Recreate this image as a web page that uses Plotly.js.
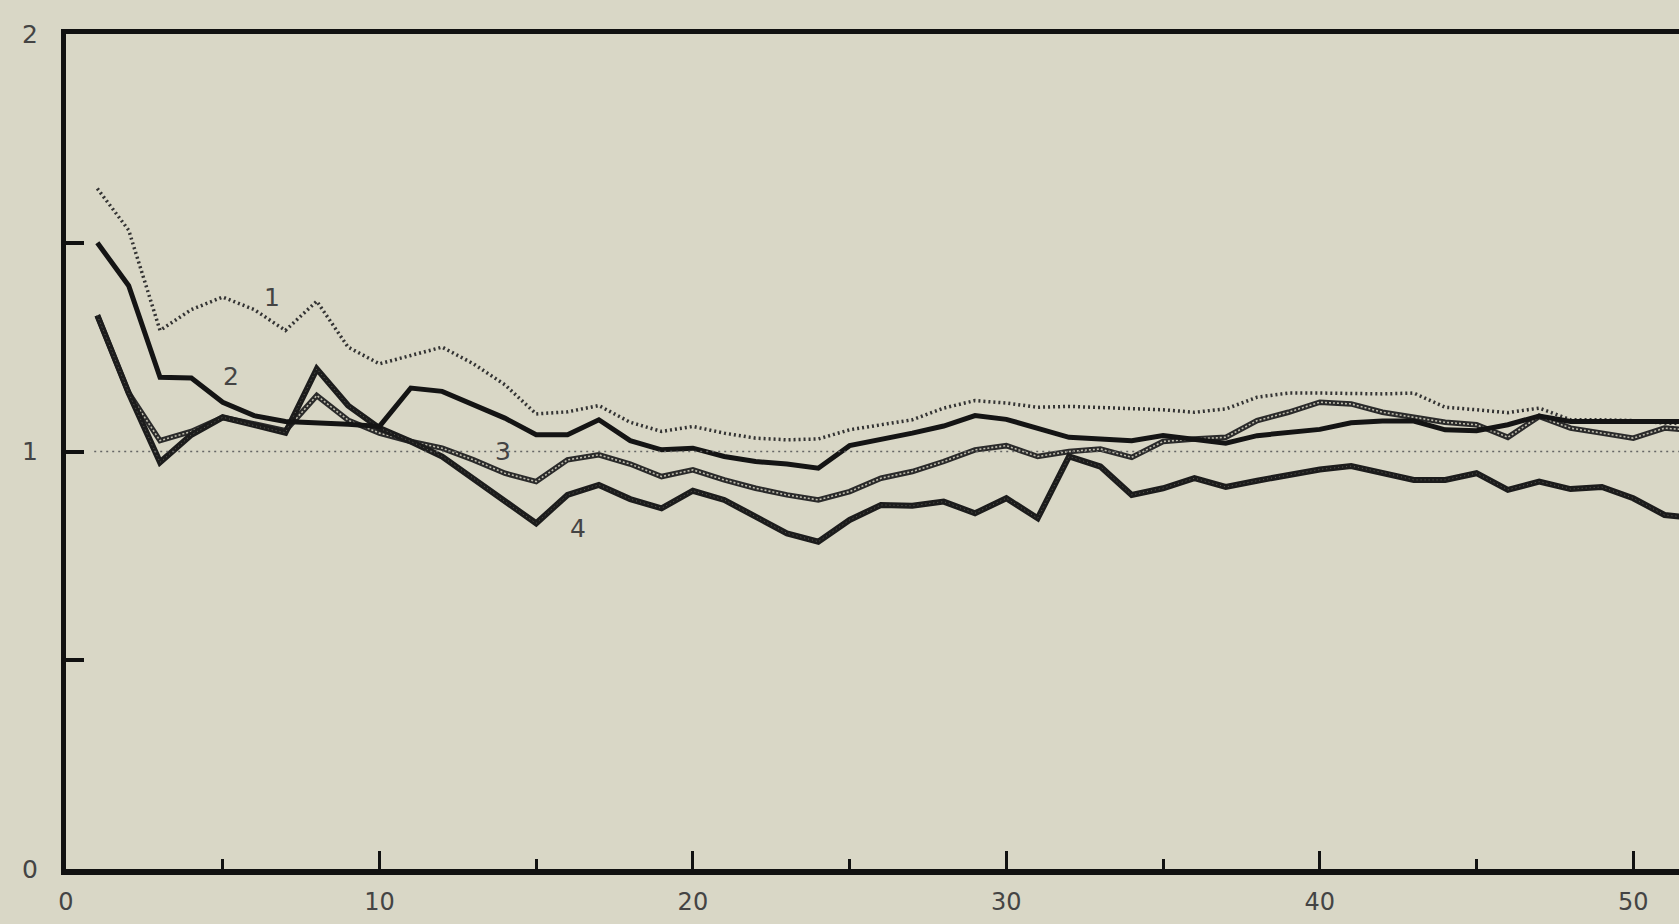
<!DOCTYPE html>
<html>
<head>
<meta charset="utf-8">
<script src="https://cdn.plot.ly/plotly-3.0.1.min.js"></script>
<style>
html,body{margin:0;padding:0;background:#d9d7c6;}
#chart{width:1679px;height:924px;}
</style>
</head>
<body>
<div id="chart"></div>
<script>
const xValues = [1,2,3,4,5,6,7,8,9,10,11,12,13,14,15,16,17,18,19,20,21,22,23,24,25,26,27,28,29,30,31,32,33,34,35,36,37,38,39,40,41,42,43,44,45,46,47,48,49,50,51,52];

const series1 = [1.63,1.53,1.29,1.34,1.37,1.34,1.29,1.36,1.25,1.21,1.23,1.25,1.21,1.16,1.09,1.095,1.11,1.07,1.048,1.06,1.044,1.032,1.028,1.03,1.052,1.064,1.076,1.104,1.122,1.116,1.106,1.108,1.106,1.104,1.1,1.094,1.102,1.13,1.14,1.14,1.138,1.138,1.14,1.106,1.1,1.093,1.104,1.076,1.076,1.074,1.068,1.066];

const series2 = [1.50,1.397,1.178,1.176,1.118,1.086,1.072,1.07,1.065,1.06,1.152,1.144,1.112,1.08,1.04,1.04,1.076,1.026,1.004,1.008,0.988,0.976,0.97,0.96,1.014,1.028,1.044,1.061,1.086,1.077,1.056,1.034,1.03,1.026,1.038,1.03,1.02,1.038,1.045,1.053,1.069,1.073,1.073,1.052,1.05,1.064,1.085,1.072,1.072,1.072,1.072,1.072];

const series3 = [1.326,1.14,1.026,1.048,1.082,1.066,1.05,1.134,1.075,1.044,1.024,1.008,0.98,0.948,0.928,0.98,0.992,0.97,0.94,0.956,0.932,0.912,0.896,0.884,0.904,0.936,0.952,0.976,1.004,1.014,0.988,1.0,1.006,0.986,1.024,1.03,1.034,1.074,1.094,1.118,1.114,1.094,1.082,1.07,1.064,1.034,1.084,1.056,1.044,1.032,1.056,1.05];

const series4 = [1.326,1.14,0.974,1.04,1.082,1.062,1.045,1.198,1.11,1.056,1.024,0.988,0.936,0.88,0.828,0.896,0.92,0.886,0.864,0.906,0.884,0.844,0.804,0.784,0.836,0.872,0.87,0.88,0.852,0.888,0.84,0.988,0.964,0.896,0.912,0.936,0.915,0.93,0.943,0.957,0.965,0.95,0.932,0.932,0.948,0.908,0.928,0.91,0.915,0.888,0.848,0.84];

const seriesLabels = ["1","2","3","4"];
const labelX = [6.58,5.25,13.93,16.32];
const labelY = [1.37,1.18,1.0,0.815];

const xTickVals = [0,10,20,30,40,50];
const xTickText = ["0","10","20","30","40","50"];
const yTickVals = [0,1,2];
const yTickText = ["0","1","2"];

const refLevel = 1;

const bg = '#d9d7c6';

const traces = [
  {x:xValues, y:series1, mode:'lines', line:{color:'#333', width:3.5, dash:'2px,3px'}, hoverinfo:'skip'},
  {x:xValues, y:series3, mode:'lines', line:{color:'#2a2a2a', width:5.5}, hoverinfo:'skip'},
  {x:xValues, y:series3, mode:'lines', line:{color:'#bdbbac', width:1.6, dash:'2px,2px'}, hoverinfo:'skip'},
  {x:xValues, y:series4, mode:'lines', line:{color:'#1c1c1c', width:6}, hoverinfo:'skip'},
  {x:xValues, y:series4, mode:'lines', line:{color:'#5e5e56', width:1, dash:'1px,3px'}, hoverinfo:'skip'},
  {x:xValues, y:series2, mode:'lines', line:{color:'#141414', width:5}, hoverinfo:'skip'}
];

const annotations = seriesLabels.map((t,i)=>({
  x:labelX[i], y:labelY[i], xref:'x', yref:'y', text:t, showarrow:false,
  font:{family:'DejaVu Sans, Arial, sans-serif', size:25, color:'#444'}
}));

const layout = {
  width:1679, height:924,
  paper_bgcolor:bg, plot_bgcolor:bg,
  showlegend:false,
  hovermode:false,
  margin:{l:66, r:0, t:34, b:55, pad:0},
  xaxis:{
    range:[0,51.46], showgrid:false, zeroline:false,
    showline:true, linecolor:'#111', linewidth:5.5, mirror:true,
    tickmode:'array', tickvals:xTickVals, ticktext:xTickText,
    ticks:'inside', ticklen:18, tickwidth:3, tickcolor:'#111',
    ticklabelstandoff:7,
    tickfont:{family:'DejaVu Sans, Arial, sans-serif', size:24, color:'#444'},
    minor:{tickvals:[5,15,25,35,45], ticks:'inside', ticklen:10, tickwidth:3, tickcolor:'#111', showgrid:false}
  },
  yaxis:{
    range:[0,2], showgrid:false, zeroline:false,
    showline:true, linecolor:'#111', linewidth:5,
    tickmode:'array', tickvals:yTickVals, ticktext:yTickText,
    ticks:'inside', ticklen:18, tickwidth:4, tickcolor:'#111',
    ticklabelstandoff:18,
    tickfont:{family:'DejaVu Sans, Arial, sans-serif', size:25, color:'#444'},
    minor:{tickvals:[0.5,1.5], ticks:'inside', ticklen:18, tickwidth:4, tickcolor:'#111', showgrid:false}
  },
  shapes:[{type:'line', xref:'x', yref:'y', x0:0.9, x1:51.46, y0:refLevel, y1:refLevel,
    line:{color:'#666', width:1.5, dash:'2px,4px'}}],
  annotations:annotations
};

Plotly.newPlot('chart', traces, layout, {displayModeBar:false, staticPlot:true});
</script>
</body>
</html>
